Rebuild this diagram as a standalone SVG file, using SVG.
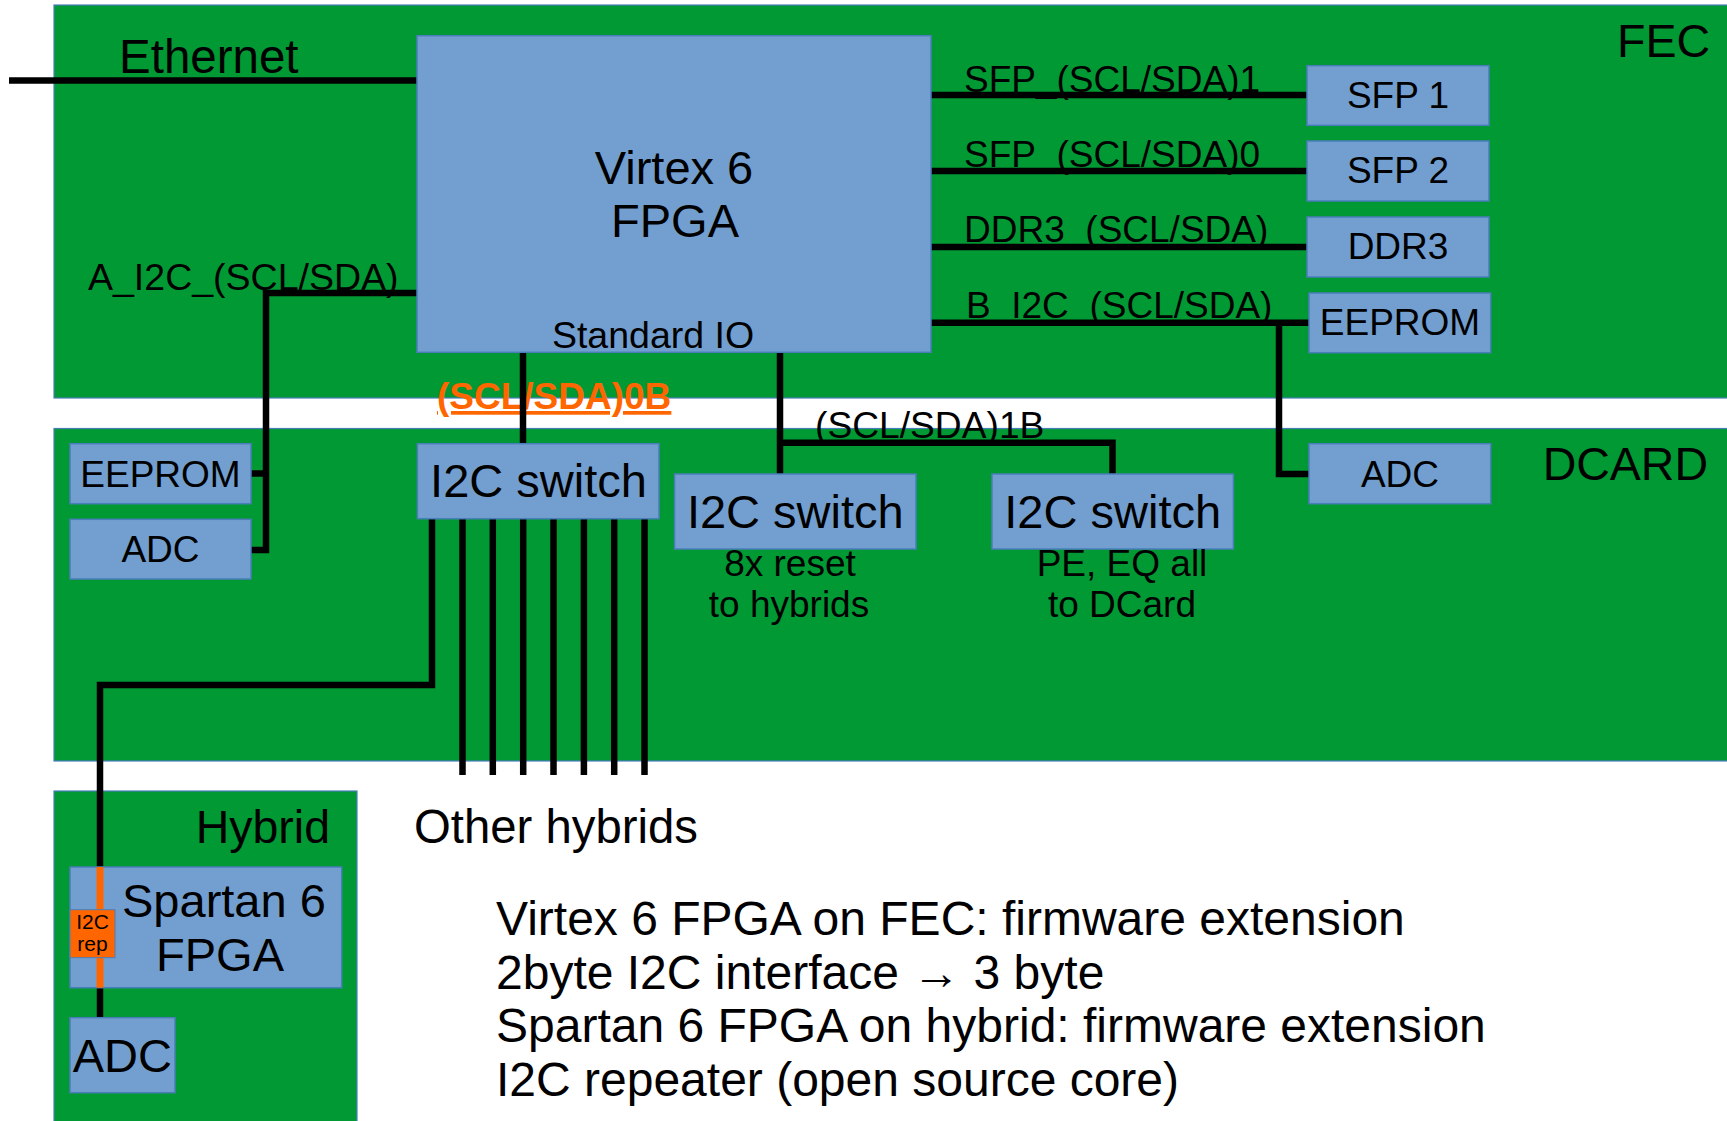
<svg xmlns="http://www.w3.org/2000/svg" width="1727" height="1121" viewBox="0 0 1727 1121">
<style>
text{font-family:"Liberation Sans",Arial,sans-serif;fill:#000}
.board{fill:#009933;stroke:#4a7ebb;stroke-width:1.2}
.box{fill:#729fcf;stroke:#4a7ebb;stroke-width:1.5}
.rep{fill:#ff6600;stroke:#4a7ebb;stroke-width:1}
.w{fill:none;stroke:#000;stroke-width:6.5;stroke-linejoin:miter;stroke-linecap:butt}
.o{fill:none;stroke:#ff6600;stroke-width:7}
.c{text-anchor:middle}
.t47{font-size:47px}
.t46{font-size:46.5px}
.t37{font-size:37px}
.t36{font-size:36px}
</style>
<rect width="1727" height="1121" fill="#fff"/>
<g id="fec">
<rect class="board" x="54" y="5" width="1700" height="393"/>
<text class="t46" x="1710" y="57" text-anchor="end">FEC</text>
</g>
<g id="dcard">
<rect class="board" x="54" y="428.5" width="1700" height="332.5"/>
<text class="t46" x="1708" y="480" text-anchor="end">DCARD</text>
</g>
<g id="hybrid">
<rect class="board" x="54" y="791" width="303" height="340"/>
<text class="t46" x="330" y="843" text-anchor="end">Hybrid</text>
</g>
<g id="labels">
<text x="119" y="73" style="font-size:47.5px">Ethernet</text>
<text x="88" y="290" style="font-size:37.5px">A_I2C_(SCL/SDA)</text>
<text class="t37" x="964" y="92">SFP_(SCL/SDA)1</text>
<text class="t37" x="964" y="167">SFP_(SCL/SDA)0</text>
<text class="t37" x="964" y="242">DDR3_(SCL/SDA)</text>
<text class="t37" x="966" y="318">B_I2C_(SCL/SDA)</text>
<text x="437" y="409" style="font-size:37px;font-weight:bold;fill:#ff6600;text-decoration:underline">(SCL/SDA)0B</text>
<text x="815" y="438" style="font-size:37.2px">(SCL/SDA)1B</text>
<text x="414" y="843" style="font-size:47.3px">Other hybrids</text>
</g>
<g id="connectors">
<path class="w" d="M9,80.5 H418"/>
<path class="w" d="M418,293 H266 V550 H251 M251,473.5 H266"/>
<path class="w" d="M930,95 H1308 M930,171 H1308 M930,247 H1308 M930,322.7 H1310"/>
<path class="w" d="M1279,322.7 V474 H1310"/>
<path class="w" d="M523,352 V444"/>
<path class="w" d="M780,352 V474 M780,442.7 H1112.5 V474"/>
<path class="w" d="M432,518 V685 H100 V867"/>
<path class="w" d="M462.5,518 V775 M492.8,518 V775 M523.2,518 V775 M553.5,518 V775 M583.9,518 V775 M614.2,518 V775 M644.5,518 V775"/>
<path class="o" d="M100,867 V988"/>
<path class="w" d="M100,987.5 V1018"/>
</g>
<g id="virtex">
<rect class="box" x="417" y="35.7" width="514" height="316.6"/>
<text class="t47 c" x="674" y="184">Virtex 6</text>
<text class="t47 c" x="675" y="237">FPGA</text>
<text class="c" x="653" y="348" style="font-size:37.5px">Standard IO</text>
</g>
<g id="sfp1"><rect class="box" x="1307" y="65.7" width="182" height="59.6"/><text class="t37 c" x="1398" y="107.5">SFP 1</text></g>
<g id="sfp2"><rect class="box" x="1307" y="141" width="182" height="60"/><text class="t37 c" x="1398" y="183">SFP 2</text></g>
<g id="ddr3"><rect class="box" x="1307" y="217" width="182" height="60"/><text class="t37 c" x="1398" y="259">DDR3</text></g>
<g id="eeprom-fec"><rect class="box" x="1309" y="293" width="181.7" height="59.7"/><text class="t37 c" x="1400" y="335">EEPROM</text></g>
<g id="eeprom-dcard"><rect class="box" x="70" y="443.7" width="181" height="60"/><text class="t37 c" x="160.5" y="486.7">EEPROM</text></g>
<g id="adc-dcard-left"><rect class="box" x="70" y="519.3" width="181" height="59.7"/><text class="t37 c" x="160.5" y="562">ADC</text></g>
<g id="adc-dcard-right"><rect class="box" x="1309" y="443.7" width="181.7" height="60"/><text class="t37 c" x="1400" y="486.7">ADC</text></g>
<g id="switch1"><rect class="box" x="417.4" y="443.7" width="241.6" height="75"/><text class="t47 c" x="538.5" y="497.3">I2C switch</text></g>
<g id="switch2"><rect class="box" x="674.6" y="474" width="241.4" height="75"/><text class="t47 c" x="795.3" y="527.7">I2C switch</text>
<text class="t37 c" x="790" y="576">8x reset</text><text class="t37 c" x="789" y="617">to hybrids</text></g>
<g id="switch3"><rect class="box" x="992" y="474" width="241.4" height="75"/><text class="t47 c" x="1112.7" y="527.7">I2C switch</text>
<text class="t37 c" x="1122" y="576">PE, EQ all</text><text class="t37 c" x="1122" y="617">to DCard</text></g>
<g id="spartan">
<rect class="box" x="70" y="867" width="271.7" height="120.7"/>
<path class="o" d="M100,867 V987.7"/>
<text class="t47" x="122" y="916.7">Spartan 6</text>
<text class="t47 c" x="220" y="970.7">FPGA</text>
</g>
<g id="i2c-rep">
<rect class="rep" x="70" y="909.7" width="45" height="48"/>
<text class="c" x="92.5" y="929" style="font-size:21px">I2C</text>
<text class="c" x="92.5" y="951" style="font-size:21px">rep</text>
</g>
<g id="adc-hybrid"><rect class="box" x="70" y="1017.7" width="105" height="75"/><text class="t47" x="72.7" y="1071.7">ADC</text></g>
<g id="notes" style="font-size:48px">
<text x="496" y="935">Virtex 6 FPGA on FEC: firmware extension</text>
<text x="496" y="988.5">2byte I2C interface → 3 byte</text>
<text x="496" y="1042">Spartan 6 FPGA on hybrid: firmware extension</text>
<text x="496" y="1095.5">I2C repeater (open source core)</text>
</g>
</svg>
